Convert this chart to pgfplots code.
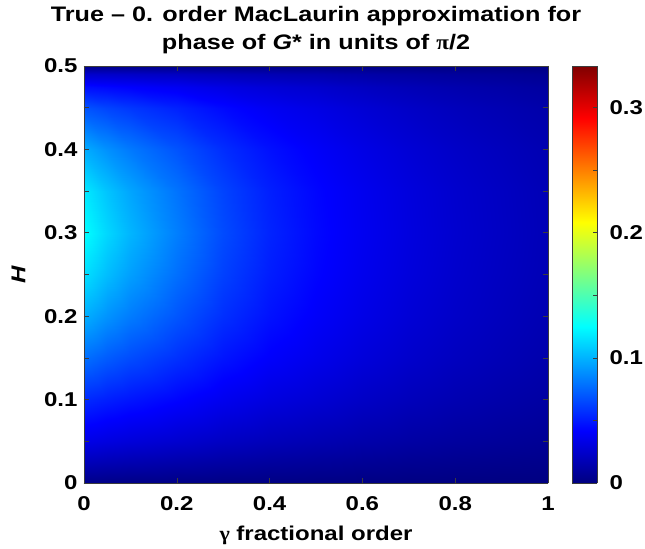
\documentclass[border=0pt]{standalone}
\usepackage{pgfplots}
\pgfplotsset{compat=1.18}
\usepackage{pgfplotstable}
\usepackage{fontspec}
\setmainfont{Liberation Sans}[FakeStretch=1.2]
\newfontfamily\symfont{Liberation Serif}[FakeStretch=1.1]
\definecolor{axgray}{RGB}{60,60,60}
\pgfplotstableread{
x y z
0 0 0.0025
0 0.025 0.019
0 0.05 0.034
0 0.1 0.055
0 0.15 0.078
0 0.2 0.099
0 0.25 0.115
0 0.3 0.125
0 0.35 0.118
0 0.4 0.098
0 0.45 0.069
0 0.475 0.046
0 0.49 0.025
0 0.5 0.0025
0.05 0 0.0022
0.05 0.025 0.0174
0.05 0.05 0.0315
0.05 0.1 0.0513
0.05 0.15 0.0715
0.05 0.2 0.0898
0.05 0.25 0.1036
0.05 0.3 0.112
0.05 0.35 0.1057
0.05 0.4 0.0887
0.05 0.45 0.0638
0.05 0.475 0.0438
0.05 0.49 0.0241
0.05 0.5 0.0026
0.1 0 0.0020
0.1 0.025 0.0162
0.1 0.05 0.0295
0.1 0.1 0.0481
0.1 0.15 0.0663
0.1 0.2 0.0822
0.1 0.25 0.0939
0.1 0.3 0.101
0.1 0.35 0.0957
0.1 0.4 0.0812
0.1 0.45 0.0596
0.1 0.475 0.0416
0.1 0.49 0.0232
0.1 0.5 0.0026
0.2 0 0.0017
0.2 0.025 0.0141
0.2 0.05 0.0261
0.2 0.1 0.0425
0.2 0.15 0.0574
0.2 0.2 0.0696
0.2 0.25 0.0780
0.2 0.3 0.083
0.2 0.35 0.0793
0.2 0.4 0.0687
0.2 0.45 0.0523
0.2 0.475 0.0377
0.2 0.49 0.0216
0.2 0.5 0.0027
0.3 0 0.0013
0.3 0.025 0.0119
0.3 0.05 0.0222
0.3 0.1 0.0362
0.3 0.15 0.0480
0.3 0.2 0.0569
0.3 0.25 0.0627
0.3 0.3 0.066
0.3 0.35 0.0636
0.3 0.4 0.0562
0.3 0.45 0.0442
0.3 0.475 0.0327
0.3 0.49 0.0191
0.3 0.5 0.0025
0.4 0 0.0011
0.4 0.025 0.0101
0.4 0.05 0.0190
0.4 0.1 0.0310
0.4 0.15 0.0405
0.4 0.2 0.0470
0.4 0.25 0.0509
0.4 0.3 0.053
0.4 0.35 0.0515
0.4 0.4 0.0464
0.4 0.45 0.0376
0.4 0.475 0.0285
0.4 0.49 0.0170
0.4 0.5 0.0023
0.5 0 0.0009
0.5 0.025 0.0088
0.5 0.05 0.0167
0.5 0.1 0.0273
0.5 0.15 0.0352
0.5 0.2 0.0400
0.5 0.25 0.0427
0.5 0.3 0.044
0.5 0.35 0.0431
0.5 0.4 0.0396
0.5 0.45 0.0330
0.5 0.475 0.0255
0.5 0.49 0.0154
0.5 0.5 0.0022
0.6 0 0.0007
0.6 0.025 0.0074
0.6 0.05 0.0141
0.6 0.1 0.0229
0.6 0.15 0.0296
0.6 0.2 0.0337
0.6 0.25 0.0359
0.6 0.3 0.037
0.6 0.35 0.0363
0.6 0.4 0.0333
0.6 0.45 0.0278
0.6 0.475 0.0215
0.6 0.49 0.0130
0.6 0.5 0.0019
0.7 0 0.0006
0.7 0.025 0.0062
0.7 0.05 0.0118
0.7 0.1 0.0192
0.7 0.15 0.0248
0.7 0.2 0.0282
0.7 0.25 0.0301
0.7 0.3 0.031
0.7 0.35 0.0304
0.7 0.4 0.0279
0.7 0.45 0.0233
0.7 0.475 0.0180
0.7 0.49 0.0109
0.7 0.5 0.0016
0.8 0 0.0005
0.8 0.025 0.0052
0.8 0.05 0.0099
0.8 0.1 0.0161
0.8 0.15 0.0208
0.8 0.2 0.0237
0.8 0.25 0.0252
0.8 0.3 0.026
0.8 0.35 0.0255
0.8 0.4 0.0234
0.8 0.45 0.0195
0.8 0.475 0.0151
0.8 0.49 0.0091
0.8 0.5 0.0013
0.9 0 0.0004
0.9 0.025 0.0044
0.9 0.05 0.0084
0.9 0.1 0.0136
0.9 0.15 0.0176
0.9 0.2 0.0200
0.9 0.25 0.0213
0.9 0.3 0.022
0.9 0.35 0.0216
0.9 0.4 0.0198
0.9 0.45 0.0165
0.9 0.475 0.0128
0.9 0.49 0.0077
0.9 0.5 0.0011
1 0 0.0004
1 0.025 0.0036
1 0.05 0.0068
1 0.1 0.0112
1 0.15 0.0144
1 0.2 0.0164
1 0.25 0.0175
1 0.3 0.018
1 0.35 0.0176
1 0.4 0.0162
1 0.45 0.0135
1 0.475 0.0104
1 0.49 0.0063
1 0.5 0.0009
}\gdata
\begin{document}
\begin{tikzpicture}
\path[use as bounding box] (-84bp,-66bp) rectangle (561bp,483bp);
\pgfplotsset{
  common/.style={
    scale only axis,
    view={0}{90},
    tick align=inside,
    major tick length=5bp, minor tick length=5bp,
    every tick/.style={axgray, line width=0.6pt},
    axis line style={axgray, line width=0.6pt},
    /pgf/number format/assume math mode=true,
    ticklabel style={font=\bfseries\fontsize{20bp}{23bp}\selectfont},
    colormap/jet,
    point meta min=0, point meta max=0.3333,
  }
}
\begin{axis}[
  common,
  at={(0,0)}, anchor=south west,
  width=464bp, height=417bp,
  xmin=0, xmax=1, ymin=0, ymax=0.5,
  xtick={0,0.2,0.4,0.6,0.8,1},
  ytick={0,0.1,0.2,0.3,0.4,0.5},
  minor y tick num=1,
  xticklabel style={yshift=-10bp},
  yticklabel style={xshift=-3bp},
  label style={font=\bfseries\fontsize{20bp}{23bp}\selectfont},
  xlabel={{\symfont γ} fractional order},
  ylabel={\textit{H}},
  xlabel style={yshift=-8bp},
  ylabel style={yshift=12bp},
  title style={font=\bfseries\fontsize{21bp}{28bp}\selectfont, align=center, yshift=3bp},
  title={True – 0. order MacLaurin approximation for\\phase of \textit{G}* in units of {\symfont π}/2},
]
\addplot3[surf, shader=interp, mesh/ordering=y varies, mesh/rows=14, mesh/cols=12] table[x=x, y=y, z=z] {\gdata};
\end{axis}
\begin{axis}[
  common,
  at={(488bp,0)}, anchor=south west,
  width=25bp, height=417bp,
  xmin=0, xmax=1, ymin=0, ymax=0.3333,
  xtick=\empty,
  ytick={0,0.1,0.2,0.3}, minor y tick num=1,
  ytick pos=right, yticklabel pos=right,
  major tick length=4bp, minor tick length=4bp,
  yticklabel style={xshift=9bp},
]
\addplot3[surf, shader=interp, point meta=y, mesh/rows=2, mesh/cols=2] coordinates {(0,0,0) (1,0,0) (0,0.3333,0) (1,0.3333,0)};
\end{axis}
\end{tikzpicture}
\end{document}
